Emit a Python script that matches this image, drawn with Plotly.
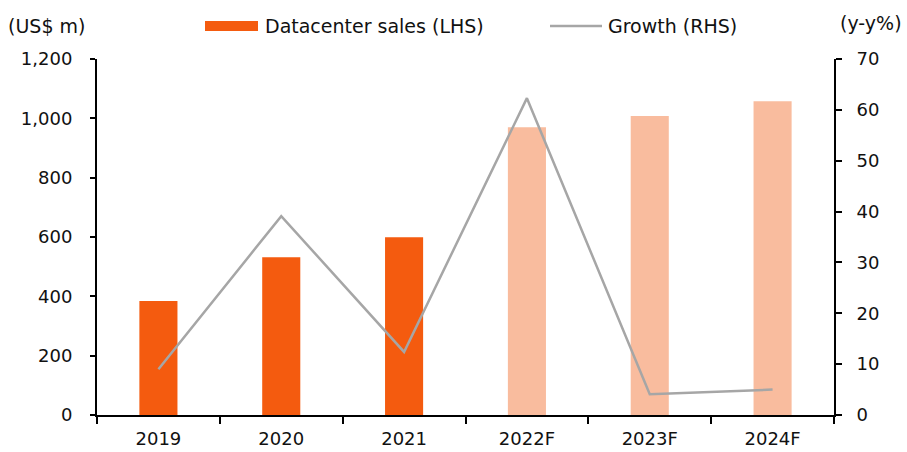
import plotly.graph_objects as go

years = ["2019", "2020", "2021", "2022F", "2023F", "2024F"]
sales = [384, 532, 599, 970, 1008, 1058]
growth = [9.0, 39.1, 12.4, 62.3, 4.1, 5.0]
is_forecast = [False, False, False, True, True, True]

C_ACTUAL = "#F45B0F"
C_FCST = "#F9BC9E"
C_LINE = "#A6A6A6"
FONT = dict(family="DejaVu Sans", size=18, color="#111111")
FONT_LEG = dict(family="DejaVu Sans", size=19, color="#111111")

# plot area in pixels (for the hand-made legend)
W, H = 907, 452
L, R, T, B = 97, 834, 59, 415


def px(x):
    return (x - L) / (R - L)


def py(y):
    return (B - y) / (B - T)


fig = go.Figure()
fig.add_trace(
    go.Bar(
        x=years,
        y=sales,
        width=0.31,
        marker=dict(color=[C_FCST if f else C_ACTUAL for f in is_forecast], line=dict(width=0)),
        name="Datacenter sales (LHS)",
        showlegend=False,
    )
)
fig.add_trace(
    go.Scatter(
        x=years,
        y=growth,
        yaxis="y2",
        mode="lines",
        line=dict(color=C_LINE, width=2.5),
        name="Growth (RHS)",
        showlegend=False,
    )
)

axis_common = dict(
    showline=True,
    linecolor="black",
    linewidth=2,
    ticks="outside",
    tickcolor="black",
    tickwidth=2,
    showgrid=False,
    zeroline=False,
    automargin=False,
    tickfont=FONT,
)

fig.update_layout(
    width=W,
    height=H,
    margin=dict(l=L, r=W - R, t=T, b=H - B, autoexpand=False),
    paper_bgcolor="white",
    plot_bgcolor="white",
    font=FONT,
    xaxis=dict(type="category", tickson="boundaries", ticklen=7, ticklabelstandoff=6, **axis_common),
    yaxis=dict(range=[0, 1200], dtick=200, tickformat=",", ticklen=5, ticklabelstandoff=14, **axis_common),
    yaxis2=dict(
        range=[0, 70], dtick=10, side="right", overlaying="y", ticklen=6, ticklabelstandoff=11, **axis_common
    ),
    showlegend=False,
)

# legend + unit labels
fig.add_shape(type="rect", xref="paper", yref="paper", x0=px(205), x1=px(258), y0=py(31), y1=py(21),
              fillcolor=C_ACTUAL, line=dict(width=0))
fig.add_shape(type="line", xref="paper", yref="paper", x0=px(550), x1=px(602), y0=py(26), y1=py(26),
              line=dict(color=C_LINE, width=2.5))
labels = [
    ("Datacenter sales (LHS)", 263, 26, "left"),
    ("Growth (RHS)", 606, 26, "left"),
    ("(US$ m)", 6, 26, "left"),
    ("(y-y%)", 904, 23, "right"),
]
for text, x, y, anchor in labels:
    fig.add_annotation(text=text, xref="paper", yref="paper", x=px(x), y=py(y), xanchor=anchor,
                       yanchor="middle", showarrow=False, font=FONT_LEG)

# page body has an 8px default margin; drop it so the figure sits at the window's corner
fig.write_html("out.html", config={"displayModeBar": False},
               post_script="document.body.style.margin='0';")
